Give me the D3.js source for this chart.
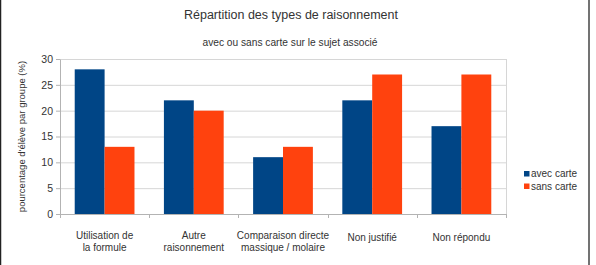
<!DOCTYPE html>
<html>
<head>
<meta charset="utf-8">
<script src="https://cdn.jsdelivr.net/npm/d3@7"></script>
<style>
  body { margin: 0; background: #fff; }
  text { font-family: "Liberation Sans", Arial, sans-serif; fill: #333; }
</style>
</head>
<body>
<div id="chart"></div>
<script>
/* Bar chart: Répartition des types de raisonnement */

const categories = [
    ["Utilisation de", "la formule"],
    ["Autre", "raisonnement"],
    ["Comparaison directe", "massique / molaire"],
    ["Non justifié"],
    ["Non répondu"]
];
const seriesNames = ["avec carte", "sans carte"];
const avecCarte = [28, 22, 11, 22, 17];
const sansCarte = [13, 20, 13, 27, 27];
const yTicks = [0, 5, 10, 15, 20, 25, 30];
const colors = ["#004586", "#ff420e"];

const height = 265,
    width = 596,
    margin = ({ top: 59, right: 90, bottom: 51, left: 60 });

const svg = d3.select("#chart")
    .append("svg")
    .attr("width", width)
    .attr("height", height)
    .attr("viewBox", [0, 0, width, height]);

// frame lines on the left and right
svg.append("line").attr("x1", 0.5).attr("x2", 0.5).attr("y1", 0).attr("y2", height)
    .attr("stroke", "#222").attr("stroke-width", 1.5);
svg.append("line").attr("x1", 589).attr("x2", 589).attr("y1", 0).attr("y2", height)
    .attr("stroke", "#444").attr("stroke-width", 1.5);

const data = categories.map((c, i) => ({ label: c, values: [avecCarte[i], sansCarte[i]] }));

let x = d3.scaleBand()
    .domain(d3.range(categories.length))
    .range([margin.left, width - margin.right])
    .paddingInner(0.33)
    .paddingOuter(0.165);

let x1 = d3.scaleBand()
    .domain([0, 1])
    .range([0, x.bandwidth()]);

let y = d3.scaleLinear()
    .domain([0, 30])
    .range([height - margin.bottom, margin.top]);

// gridlines
svg.append("g")
    .selectAll("line")
    .data(yTicks)
    .join("line")
    .attr("x1", margin.left)
    .attr("x2", width - margin.right)
    .attr("y1", d => y(d) + 0.5)
    .attr("y2", d => y(d) + 0.5)
    .attr("stroke", "#d6d6d6");

svg.append("line")
    .attr("x1", width - margin.right + 0.5).attr("x2", width - margin.right + 0.5)
    .attr("y1", margin.top).attr("y2", height - margin.bottom)
    .attr("stroke", "#d6d6d6");

// bars
svg.append("g")
    .selectAll("g")
    .data(data)
    .join("g")
    .attr("transform", (d, i) => `translate(${x(i)},0)`)
    .selectAll("rect")
    .data(d => d.values)
    .join("rect")
    .attr("x", (d, j) => x1(j))
    .attr("y", d => y(d))
    .attr("width", x1.bandwidth())
    .attr("height", d => y(0) - y(d))
    .attr("fill", (d, j) => colors[j]);

// y axis
const yAxis = svg.append("g")
    .attr("transform", `translate(${margin.left},0)`)
    .call(d3.axisLeft(y).tickValues(yTicks).tickSize(4).tickPadding(3).tickSizeOuter(0));
yAxis.select(".domain").attr("stroke", "#b3b3b3");
yAxis.selectAll(".tick line").attr("stroke", "#b3b3b3");
yAxis.selectAll(".tick text").style("font-size", "10.5px").attr("fill", "#333");

// x axis
const xEdges = d3.range(categories.length + 1).map(i => margin.left + i * (width - margin.right - margin.left) / categories.length);
svg.append("line")
    .attr("x1", margin.left).attr("x2", width - margin.right)
    .attr("y1", y(0) + 0.5).attr("y2", y(0) + 0.5)
    .attr("stroke", "#b3b3b3");
svg.append("g")
    .selectAll("line")
    .data(xEdges)
    .join("line")
    .attr("x1", d => Math.round(d) + 0.5)
    .attr("x2", d => Math.round(d) + 0.5)
    .attr("y1", y(0))
    .attr("y2", y(0) + 4)
    .attr("stroke", "#b3b3b3");

svg.append("g")
    .selectAll("text")
    .data(data)
    .join("text")
    .attr("text-anchor", "middle")
    .attr("x", (d, i) => x(i) + x.bandwidth() / 2)
    .attr("y", d => d.label.length > 1 ? 239 : 241)
    .style("font-size", "10px")
    .selectAll("tspan")
    .data(d => d.label)
    .join("tspan")
    .attr("x", function () { return this.parentNode.getAttribute("x"); })
    .attr("dy", (d, k) => k === 0 ? 0 : "1.2em")
    .text(d => d);

// titles
svg.append("text")
    .attr("text-anchor", "middle")
    .attr("x", 291)
    .attr("y", 19)
    .style("font-size", "12.5px")
    .attr("fill", "#222")
    .text("Répartition des types de raisonnement");

svg.append("text")
    .attr("text-anchor", "middle")
    .attr("x", 290)
    .attr("y", 46)
    .style("font-size", "10.2px")
    .text("avec ou sans carte sur le sujet associé");

svg.append("text")
    .attr("text-anchor", "middle")
    .attr("transform", `translate(25,${(margin.top + height - margin.bottom) / 2}) rotate(-90)`)
    .style("font-size", "9.5px")
    .text("pourcentage d'élève par groupe (%)");

// legend
const legend = svg.append("g")
    .selectAll("g")
    .data(seriesNames)
    .join("g")
    .attr("transform", (d, i) => `translate(524,${171 + i * 12.5})`);
legend.append("rect")
    .attr("width", 5.5)
    .attr("height", 5.5)
    .attr("fill", (d, i) => colors[i]);
legend.append("text")
    .attr("x", 7)
    .attr("y", 6)
    .style("font-size", "10px")
    .text(d => d);
</script>
</body>
</html>
